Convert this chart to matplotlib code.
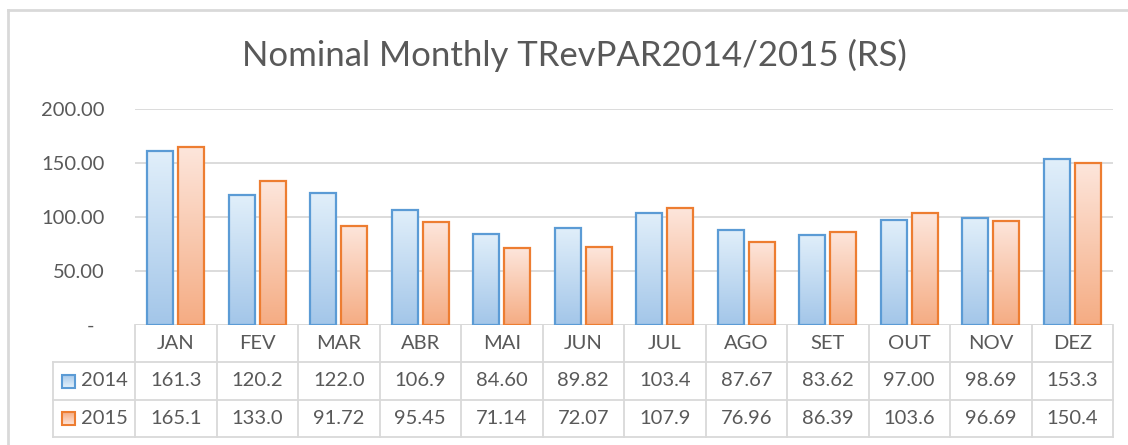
import numpy as np
import matplotlib
matplotlib.use("Agg")
import matplotlib.pyplot as plt
from matplotlib.colors import LinearSegmentedColormap
from matplotlib.ticker import FuncFormatter
import matplotlib.transforms as mtransforms

plt.rcParams['font.family'] = ['Lato', 'DejaVu Sans']

# data
months = ["JAN", "FEV", "MAR", "ABR", "MAI", "JUN", "JUL", "AGO", "SET", "OUT", "NOV", "DEZ"]
vals_2014 = [161.3, 120.2, 122.0, 106.9, 84.60, 89.82, 103.4, 87.67, 83.62, 97.00, 98.69, 153.3]
vals_2015 = [165.1, 133.0, 91.72, 95.45, 71.14, 72.07, 107.9, 76.96, 86.39, 103.6, 96.69, 150.4]
labels_2014 = ["161.3", "120.2", "122.0", "106.9", "84.60", "89.82", "103.4", "87.67", "83.62", "97.00", "98.69", "153.3"]
labels_2015 = ["165.1", "133.0", "91.72", "95.45", "71.14", "72.07", "107.9", "76.96", "86.39", "103.6", "96.69", "150.4"]
series_names = ["2014", "2015"]

W, H = 1128, 445
text_col = "#595959"
grid_col = "#d9d9d9"
edge_cols = ["#5b9bd5", "#ed7d31"]
grads = [("#a3c6e9", "#e1effa"), ("#f5ac83", "#fde6dc")]

fig = plt.figure(figsize=(W / 100, H / 100), dpi=100)

# overlay in pixel coords for frame and table
ov = fig.add_axes([0, 0, 1, 1])
ov.set_xlim(0, W)
ov.set_ylim(H, 0)
ov.axis("off")

left, right, top, base = 135, 1113, 109, 325
ax = fig.add_axes([left / W, (H - base) / H, (right - left) / W, (base - top) / H])
ax.set_xlim(-0.5, len(months) - 0.5)
ax.set_ylim(0, 200)
ax.set_yticks([0, 50, 100, 150, 200])
ax.yaxis.set_major_formatter(FuncFormatter(lambda v, p: "-  " if v == 0 else f"{v:.2f}"))
ax.tick_params(axis="y", length=0, pad=22, labelsize=14.5, labelcolor=text_col)
ax.set_xticks([])
for s in ax.spines.values():
    s.set_visible(False)
ax.grid(axis="y", color=grid_col, lw=1.3)
ax.set_axisbelow(True)
ax.axhline(0, color=grid_col, lw=1.3, zorder=1)

x = np.arange(len(months))
bw, off = 0.32, 0.19
grad = np.linspace(0, 1, 256).reshape(-1, 1)
for k, vals in enumerate([vals_2014, vals_2015]):
    cmap = LinearSegmentedColormap.from_list("g%d" % k, list(grads[k]))
    bars = ax.bar(x + (2 * k - 1) * off, vals, bw, facecolor="none",
                  edgecolor=edge_cols[k], lw=1.6, zorder=3)
    for b in bars:
        x0, w, h = b.get_x(), b.get_width(), b.get_height()
        im = ax.imshow(grad, cmap=cmap, origin="lower", aspect="auto",
                       extent=[x0, x0 + w, 0, h], zorder=2)
        im.set_clip_path(b)
ax.set_xlim(-0.5, len(months) - 0.5)
ax.set_ylim(0, 200)

# title
ov.text(W / 2 + 10, 55, "Nominal Monthly TRevPAR2014/2015 (RS)", ha="center", va="center",
        fontsize=25, color=text_col)

# outer frame (partially visible)
ov.plot([8, W], [10, 10], color="#d9d9d9", lw=2)
ov.plot([8, 8], [10, H], color="#d9d9d9", lw=2)

# data table
tr = mtransforms.blended_transform_factory(ax.transData, ov.transData)
rows_y = [325, 362, 400, 437]
tab_left = 53
for yy in rows_y[1:]:
    ov.plot([tab_left, right], [yy, yy], color=grid_col, lw=1.3)
ov.plot([tab_left, tab_left], [rows_y[1], rows_y[3]], color=grid_col, lw=1.3)
for i in range(len(months) + 1):
    ov.plot([i - 0.5, i - 0.5], [rows_y[0], rows_y[3]], color=grid_col, lw=1.3, transform=tr)

fs = 14.5
for i, m in enumerate(months):
    ov.text(i, (rows_y[0] + rows_y[1]) / 2, m, ha="center", va="center", fontsize=fs,
            color=text_col, transform=tr)
    ov.text(i, (rows_y[1] + rows_y[2]) / 2, labels_2014[i], ha="center", va="center",
            fontsize=fs, color=text_col, transform=tr)
    ov.text(i, (rows_y[2] + rows_y[3]) / 2, labels_2015[i], ha="center", va="center",
            fontsize=fs, color=text_col, transform=tr)

for k, name in enumerate(series_names):
    yc = (rows_y[k + 1] + rows_y[k + 2]) / 2
    cmap = LinearSegmentedColormap.from_list("l%d" % k, list(grads[k]))
    ov.imshow(grad, cmap=cmap, origin="upper", aspect="auto",
              extent=[62, 75, yc + 6.5, yc - 6.5], zorder=2)
    ov.add_patch(plt.Rectangle((62, yc - 6.5), 13, 13, facecolor="none",
                               edgecolor=edge_cols[k], lw=1.5, zorder=3))
    ov.text(81, yc, name, ha="left", va="center", fontsize=fs, color=text_col)
ov.set_xlim(0, W)
ov.set_ylim(H, 0)

fig.savefig("out.png", dpi=100)
